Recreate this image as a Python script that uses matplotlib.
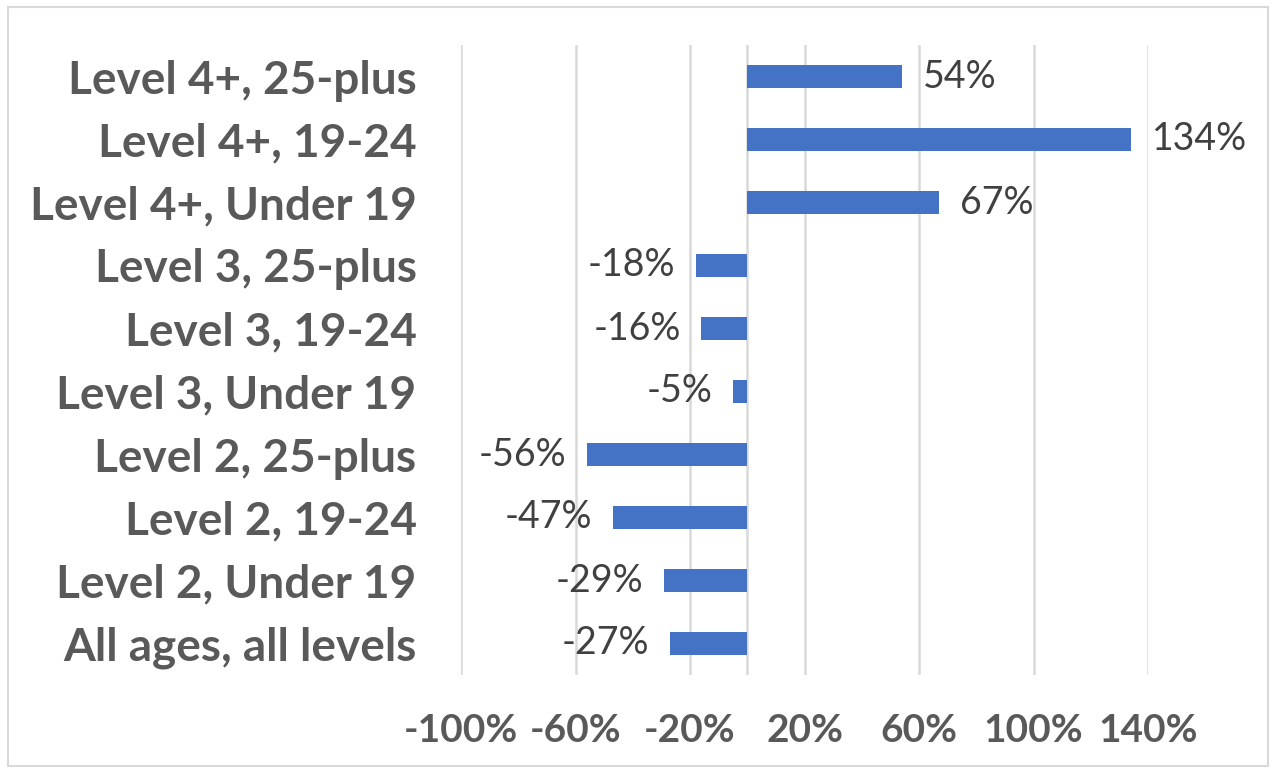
import matplotlib.pyplot as plt
from matplotlib.patches import Rectangle

# data (bottom to top)
categories = ['All ages, all levels', 'Level 2, Under 19', 'Level 2, 19-24', 'Level 2, 25-plus',
              'Level 3, Under 19', 'Level 3, 19-24', 'Level 3, 25-plus',
              'Level 4+, Under 19', 'Level 4+, 19-24', 'Level 4+, 25-plus']
values = [-27, -29, -47, -56, -5, -16, -18, 67, 134, 54]
x_ticks = [-100, -60, -20, 20, 60, 100, 140]

plt.rcParams['font.family'] = ['Lato', 'DejaVu Sans']

fig = plt.figure(figsize=(12.76, 7.73), dpi=100)
ax = fig.add_axes([461/1276, 1 - 675/773, (1148 - 461)/1276, 630/773])

# outer chart border
fig.patches.append(Rectangle((8/1276, 7/773), 1260/1276, 759/773, transform=fig.transFigure,
                             fill=False, edgecolor='#d9d9d9', linewidth=1.5))

y = range(len(categories))
bars = ax.barh(y, values, height=0.35, color='#4472C4', zorder=3)

for b, v in zip(bars, values):
    off = 15 if v >= 0 else -15
    ax.annotate(f'{v}%', (v, b.get_y() + b.get_height()/2), xytext=(off, 0),
                textcoords='offset points', ha='left' if v >= 0 else 'right', va='center',
                fontsize=27, color='#404040')

ax.set_xlim(-100, 140)
ax.set_ylim(-0.5, len(categories) - 0.5)
ax.set_xticks(x_ticks)
ax.set_xticklabels([f'{t}%' for t in x_ticks], fontsize=28, fontweight='bold', color='#595959')
ax.set_yticks(list(y))
ax.set_yticklabels(categories, fontsize=33, fontweight='bold', color='#595959')
ax.tick_params(axis='x', length=0, pad=27)
ax.tick_params(axis='y', length=0, pad=32)

ax.grid(axis='x', color='#d9d9d9', linewidth=1.8, zorder=0)
ax.axvline(0, color='#d9d9d9', linewidth=1.8, zorder=1)
for s in ax.spines.values():
    s.set_visible(False)

fig.savefig('out.png', dpi=100)
